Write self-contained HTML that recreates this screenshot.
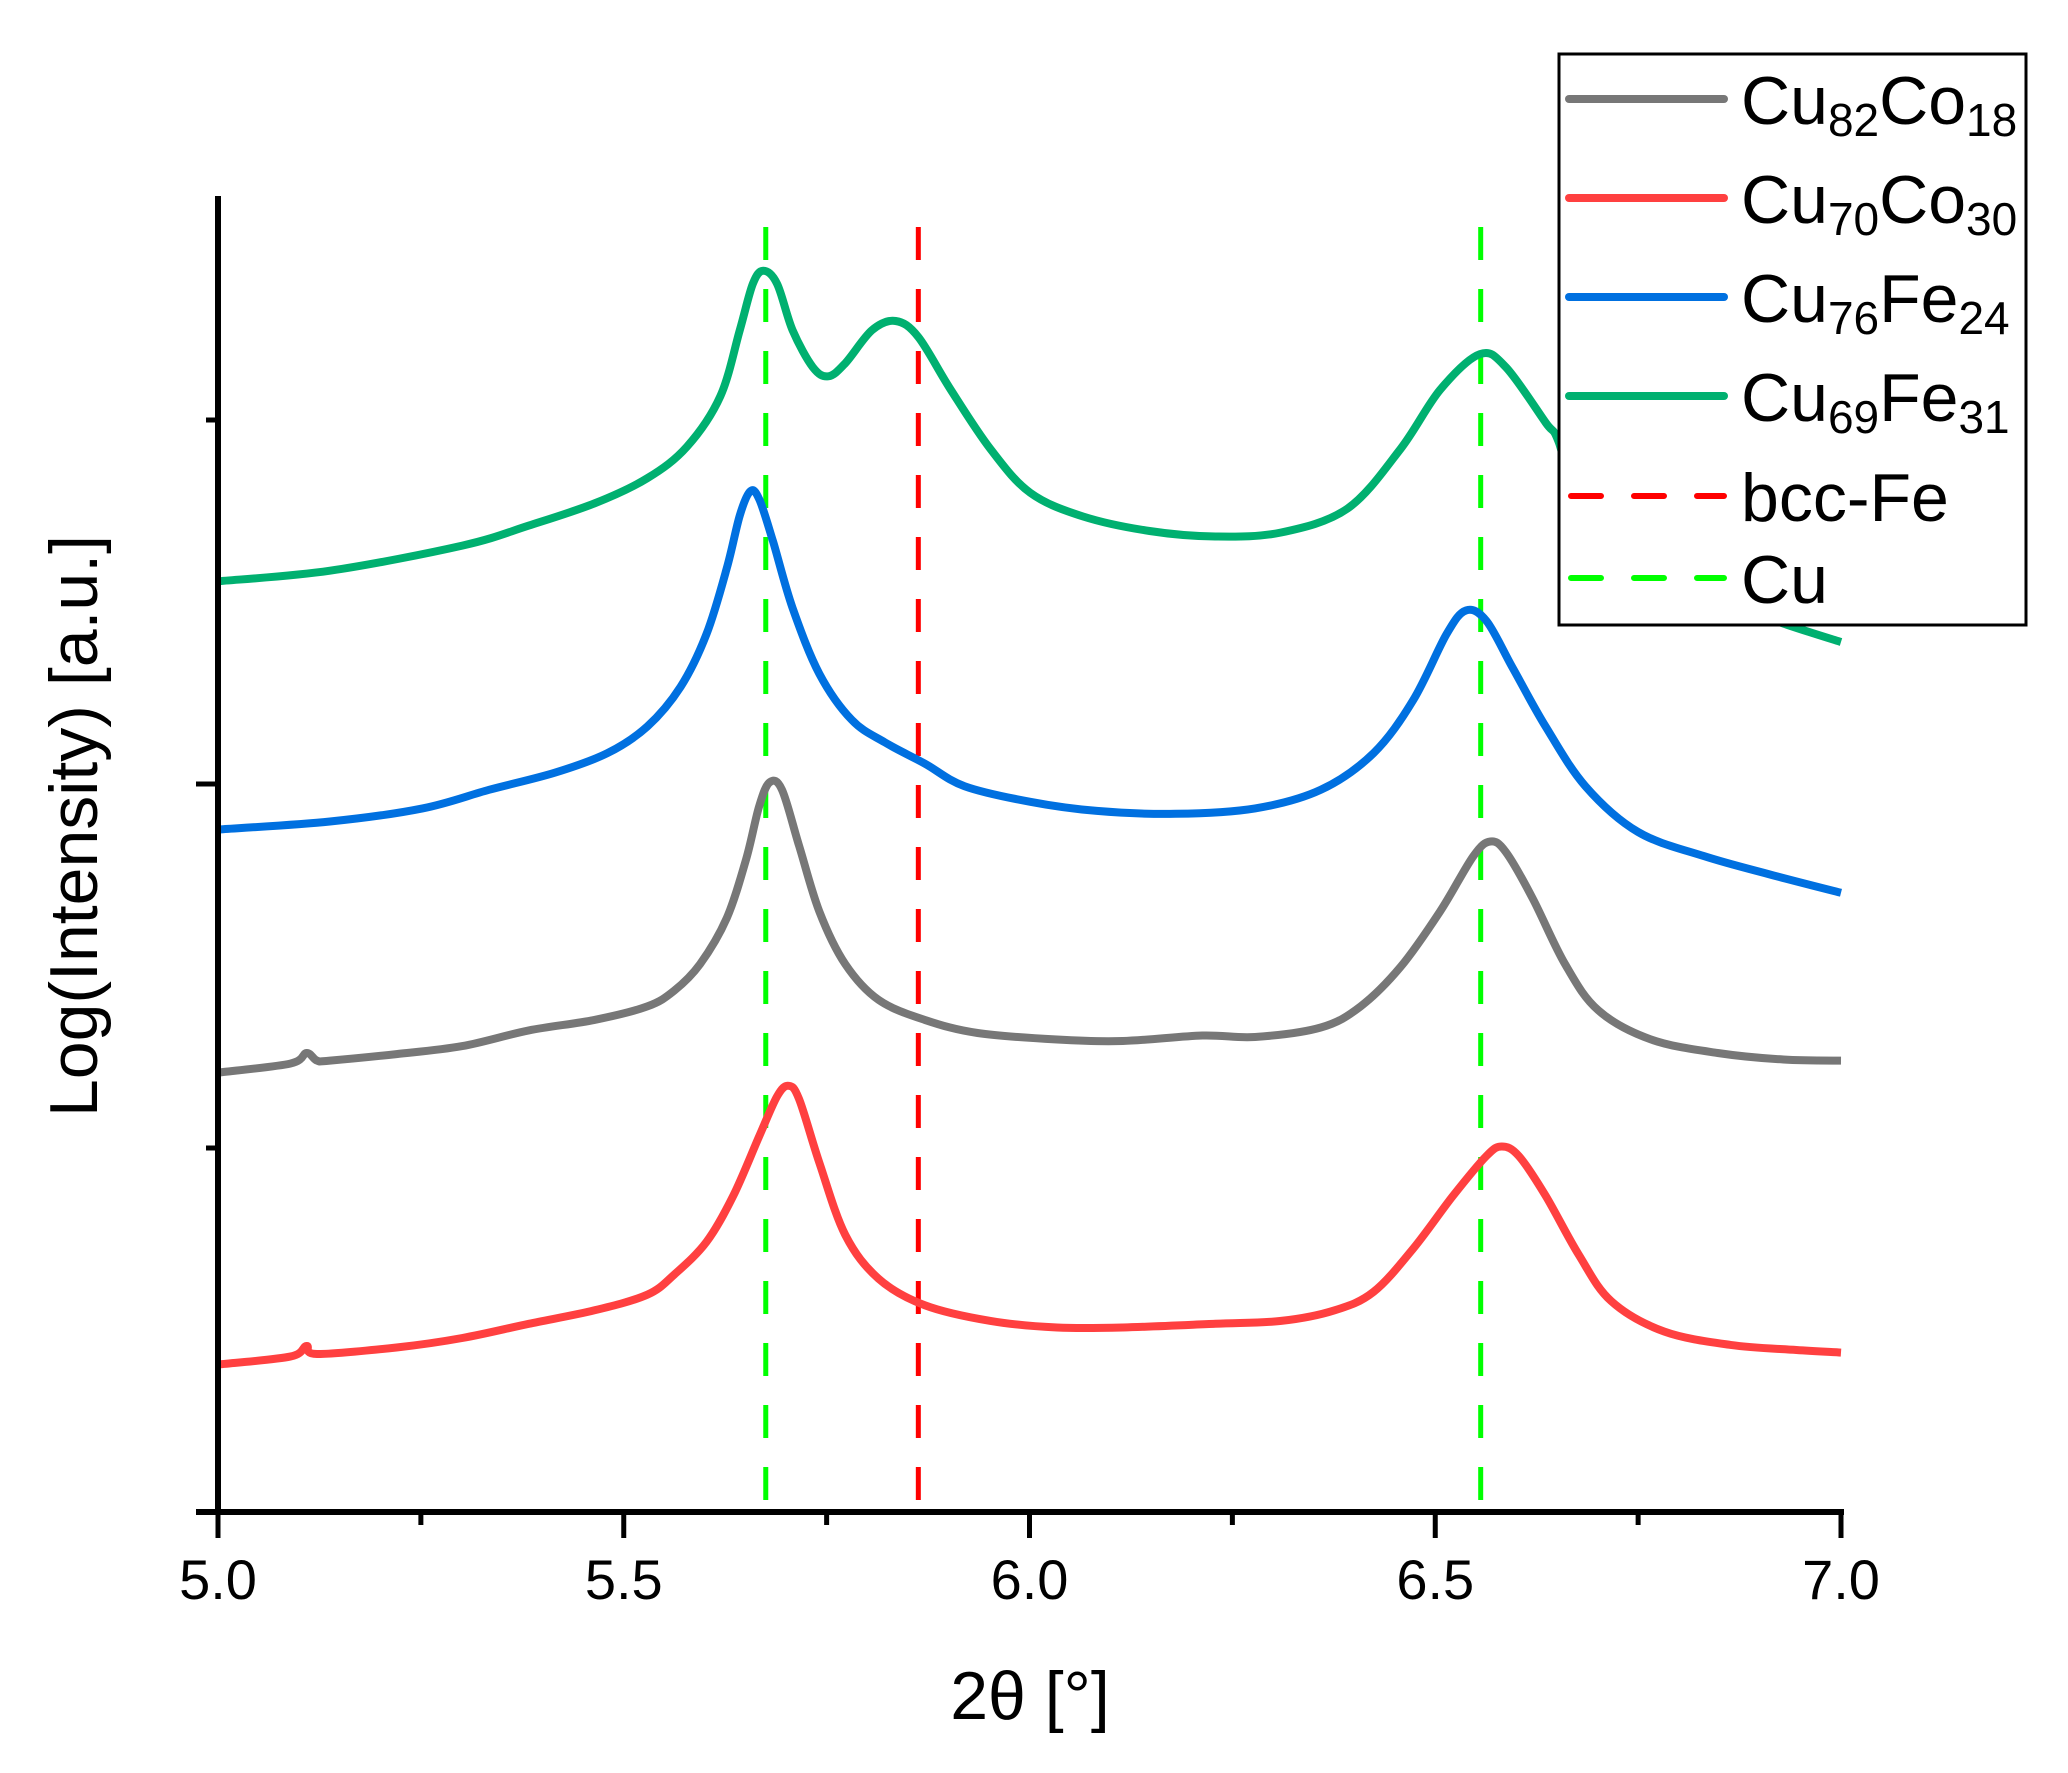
<!DOCTYPE html>
<html><head><meta charset="utf-8"><style>
html,body{margin:0;padding:0;background:#fff;}
svg{display:block;font-family:"Liberation Sans",Arial,sans-serif;}
</style></head><body>
<svg id="chart" width="2068" height="1773" viewBox="0 0 2068 1773" xmlns="http://www.w3.org/2000/svg">
<g id="refs"></g>
<g id="series"></g>
<g id="axes"></g>
<text x="1030" y="1719" font-size="68" text-anchor="middle">2θ [°]</text>
<text transform="translate(79,826) rotate(-90)" font-size="68" text-anchor="middle" dominant-baseline="middle">Log(Intensity) [a.u.]</text>
<g>
<rect x="1559" y="54" width="467" height="571" fill="#fff" stroke="#000" stroke-width="3"/>
<line x1="1569" y1="99" x2="1724" y2="99" stroke="#777" stroke-width="8" stroke-linecap="round"/>
<text x="1741" y="124" font-size="68">Cu<tspan font-size="46" dy="12">82</tspan><tspan dy="-12">Co</tspan><tspan font-size="46" dy="12">18</tspan></text>
<line x1="1569" y1="198" x2="1724" y2="198" stroke="#ff4040" stroke-width="8" stroke-linecap="round"/>
<text x="1741" y="223" font-size="68">Cu<tspan font-size="46" dy="12">70</tspan><tspan dy="-12">Co</tspan><tspan font-size="46" dy="12">30</tspan></text>
<line x1="1569" y1="297" x2="1724" y2="297" stroke="#0070e0" stroke-width="8" stroke-linecap="round"/>
<text x="1741" y="322" font-size="68">Cu<tspan font-size="46" dy="12">76</tspan><tspan dy="-12">Fe</tspan><tspan font-size="46" dy="12">24</tspan></text>
<line x1="1569" y1="396" x2="1724" y2="396" stroke="#00b070" stroke-width="8" stroke-linecap="round"/>
<text x="1741" y="421" font-size="68">Cu<tspan font-size="46" dy="12">69</tspan><tspan dy="-12">Fe</tspan><tspan font-size="46" dy="12">31</tspan></text>
<line x1="1571" y1="496" x2="1724" y2="496" stroke="#ff0000" stroke-width="6" stroke-linecap="round" stroke-dasharray="30 33"/>
<text x="1741" y="521" font-size="68">bcc-Fe</text>
<line x1="1571" y1="578" x2="1724" y2="578" stroke="#00ff00" stroke-width="6" stroke-linecap="round" stroke-dasharray="30 33"/>
<text x="1741" y="603" font-size="68">Cu</text>
</g>
</svg>
<script>
const xTicks = [5.0, 5.5, 6.0, 6.5, 7.0];
const xMinorTicks = [5.25, 5.75, 6.25, 6.75];
const yMajorTicks = [0, 2];
const yMinorTicks = [1, 3];
const refCu = [5.675, 6.556];
const refFe = [5.863];

const grayX = [5.000,5.089,5.109,5.122,5.138,5.220,5.301,5.383,5.464,5.529,5.562,5.594,5.627,5.651,5.667,5.680,5.695,5.716,5.741,5.773,5.814,5.871,5.936,6.034,6.115,6.213,6.278,6.359,6.408,6.457,6.506,6.547,6.568,6.587,6.620,6.660,6.701,6.766,6.848,6.929,7.000];
const grayY = [1.207,1.232,1.261,1.240,1.240,1.258,1.280,1.323,1.352,1.389,1.432,1.505,1.632,1.795,1.940,2.005,1.984,1.831,1.650,1.505,1.407,1.352,1.316,1.298,1.294,1.309,1.305,1.331,1.389,1.497,1.650,1.802,1.842,1.813,1.686,1.505,1.378,1.298,1.261,1.243,1.240];

const redX = [5.000,5.089,5.109,5.122,5.220,5.301,5.383,5.464,5.529,5.562,5.602,5.635,5.667,5.689,5.703,5.716,5.741,5.773,5.814,5.871,5.952,6.034,6.115,6.229,6.310,6.376,6.424,6.473,6.522,6.563,6.582,6.603,6.636,6.677,6.717,6.782,6.864,6.945,7.000];
const redY = [0.405,0.427,0.456,0.434,0.452,0.478,0.517,0.554,0.597,0.652,0.742,0.869,1.033,1.142,1.171,1.135,0.960,0.761,0.641,0.568,0.525,0.507,0.507,0.517,0.525,0.554,0.605,0.724,0.869,0.978,1.004,0.978,0.869,0.706,0.579,0.496,0.459,0.445,0.438];

const blueX = [5.000,5.138,5.252,5.334,5.415,5.480,5.529,5.570,5.602,5.627,5.643,5.656,5.667,5.684,5.708,5.741,5.781,5.822,5.871,5.920,6.001,6.083,6.180,6.278,6.359,6.424,6.473,6.514,6.538,6.563,6.595,6.636,6.685,6.750,6.831,6.913,7.000];
const blueY = [1.875,1.897,1.933,1.984,2.031,2.085,2.158,2.267,2.412,2.593,2.738,2.804,2.782,2.666,2.484,2.303,2.176,2.114,2.056,1.994,1.951,1.926,1.918,1.933,1.984,2.085,2.231,2.412,2.477,2.448,2.321,2.158,1.994,1.868,1.802,1.751,1.701];

const greenX = [5.000,5.138,5.301,5.383,5.464,5.529,5.578,5.619,5.643,5.659,5.672,5.689,5.708,5.733,5.752,5.773,5.806,5.835,5.863,5.903,5.952,6.001,6.066,6.148,6.229,6.310,6.392,6.457,6.506,6.555,6.587,6.636,6.652,6.685,6.766,6.848,6.934,7.000];
const greenY = [2.557,2.586,2.655,2.710,2.771,2.840,2.927,3.065,3.247,3.374,3.410,3.374,3.247,3.145,3.120,3.156,3.247,3.272,3.228,3.083,2.920,2.800,2.735,2.695,2.680,2.691,2.757,2.920,3.083,3.181,3.145,2.993,2.940,2.720,2.593,2.503,2.437,2.390];

const X0 = 218, X1 = 1841, Y0 = 1512, YU = 364, YTOP = 196;
function sx(v){ return X0 + (v - 5) / 2 * (X1 - X0); }
function sy(v){ return Y0 - v * YU; }
const NS = 'http://www.w3.org/2000/svg';
function mk(tag, attrs, parent){
  const e = document.createElementNS(NS, tag);
  for (const k in attrs) e.setAttribute(k, attrs[k]);
  parent.appendChild(e);
  return e;
}
function smoothPath(xs, ys){
  const p = xs.map((x,i)=>[sx(x), sy(ys[i])]);
  let d = 'M' + p[0][0].toFixed(1) + ' ' + p[0][1].toFixed(1);
  for (let i=0;i<p.length-1;i++){
    const p0 = p[Math.max(0,i-1)], p1 = p[i], p2 = p[i+1], p3 = p[Math.min(p.length-1,i+2)];
    const c1x = p1[0] + (p2[0]-p0[0])/6, c1y = p1[1] + (p2[1]-p0[1])/6;
    const c2x = p2[0] - (p3[0]-p1[0])/6, c2y = p2[1] - (p3[1]-p1[1])/6;
    d += ' C' + c1x.toFixed(1)+' '+c1y.toFixed(1)+' '+c2x.toFixed(1)+' '+c2y.toFixed(1)+' '+p2[0].toFixed(1)+' '+p2[1].toFixed(1);
  }
  return d;
}
const refs = document.getElementById('refs');
refCu.forEach(v=>{
  const l = mk('line',{x1:sx(v),x2:sx(v),y1:227,y2:Y0,stroke:'#00ff00','stroke-width':5,'stroke-dasharray':'33 29'},refs);
  
  
});
refFe.forEach(v=>{
  const l = mk('line',{x1:sx(v),x2:sx(v),y1:227,y2:Y0,stroke:'#ff0000','stroke-width':5,'stroke-dasharray':'33 29'},refs);
  
  
});
const sg = document.getElementById('series');
const s1 = mk('path',{d:smoothPath(greenX,greenY),fill:'none',stroke:'#00b070','stroke-width':8,'stroke-linejoin':'round'},sg);


const s2 = mk('path',{d:smoothPath(blueX,blueY),fill:'none',stroke:'#0070e0','stroke-width':8,'stroke-linejoin':'round'},sg);


const s3 = mk('path',{d:smoothPath(grayX,grayY),fill:'none',stroke:'#777777','stroke-width':8,'stroke-linejoin':'round'},sg);


const s4 = mk('path',{d:smoothPath(redX,redY),fill:'none',stroke:'#ff4040','stroke-width':8,'stroke-linejoin':'round'},sg);



const ax = document.getElementById('axes');
const xa = mk('line',{x1:X0-22,x2:X1+3,y1:Y0,y2:Y0,stroke:'#000','stroke-width':6},ax);


const ya = mk('line',{x1:X0,x2:X0,y1:YTOP,y2:Y0+3,stroke:'#000','stroke-width':6},ax);


xTicks.forEach(v=>{
  const t = mk('line',{x1:sx(v),x2:sx(v),y1:Y0,y2:Y0+26,stroke:'#000','stroke-width':5},ax);
  
  
  const lb = mk('text',{x:sx(v),y:1599,'font-size':56,'text-anchor':'middle'},ax);
  lb.textContent = v.toFixed(1);
  
  
});
xMinorTicks.forEach(v=>{
  const t = mk('line',{x1:sx(v),x2:sx(v),y1:Y0,y2:Y0+13,stroke:'#000','stroke-width':5},ax);
  
  
});
yMajorTicks.forEach(v=>{
  const t = mk('line',{x1:X0-22,x2:X0,y1:sy(v),y2:sy(v),stroke:'#000','stroke-width':5},ax);
  
  
});
yMinorTicks.forEach(v=>{
  const t = mk('line',{x1:X0-12,x2:X0,y1:sy(v),y2:sy(v),stroke:'#000','stroke-width':5},ax);
  
  
});
</script>
</body></html>
